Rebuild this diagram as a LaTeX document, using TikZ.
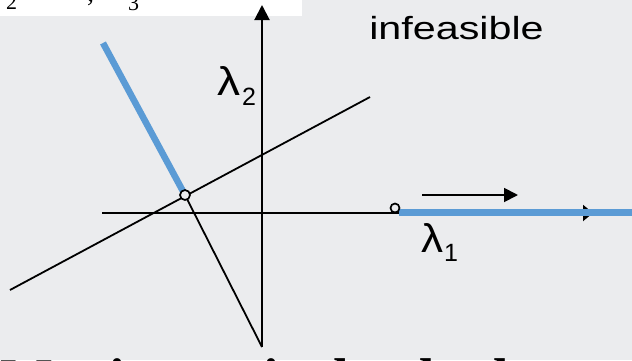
\documentclass[tikz,border=0pt]{standalone}
\usepackage{fontspec}
\setmainfont{Liberation Serif}
\newfontfamily\arialfont{Liberation Sans}
\usetikzlibrary{arrows.meta}
\definecolor{bgray}{RGB}{235,236,238}
\definecolor{lineblue}{RGB}{91,155,213}
\tikzset{
  thinline/.style={line width=1.8pt, black},
  axisline/.style={line width=2pt, black},
  bluefeas/.style={line width=6.5pt, lineblue},
  opencircle/.style={circle, draw=black, line width=1.7pt, fill=bgray, inner sep=0pt, minimum size=9pt},
  sanslabel/.style={font=\arialfont, inner sep=0pt, anchor=base west},
  seriftext/.style={inner sep=0pt, anchor=base west},
}
\begin{document}
\begin{tikzpicture}[x=1pt,y=-1pt]
\useasboundingbox (0,0) rectangle (632,360);
\clip (0,0) rectangle (632,360);
\fill[bgray] (0,0) rectangle (632,360);
\fill[white] (0,0) rectangle (302,16);
% cut-off text at the top
\node[seriftext, font=\fontsize{22}{22}\selectfont] (ttwo) at (6,9) {2};
\node[seriftext, font=\fontsize{28}{28}\selectfont] (tcomma) at (87,1) {,};
\node[seriftext, font=\fontsize{22}{22}\selectfont] (tthree) at (128,10) {3};
% points
\coordinate (vbot) at (262,347);
\coordinate (vtop) at (262,5);
\coordinate (hleft) at (102,213);
\coordinate (htip) at (593,213);
\coordinate (Astart) at (10,290);
\coordinate (Aend) at (370,97);
\coordinate (Btop) at (103,43);
\coordinate (Pc) at (185,195);
\coordinate (Qc) at (395,208);
\coordinate (bend) at (632,212.5);
\coordinate (arA) at (422,195);
\coordinate (arB) at (518,195);
% axes
\draw[axisline, -{Triangle[length=15pt,width=15pt]}] (vbot) -- (vtop);
\draw[axisline, -{Triangle[length=10pt,width=16pt]}] (hleft) -- (htip);
% constraint lines
\draw[thinline] (Astart) -- (Aend);
\draw[thinline] (Pc) -- (vbot);
% feasible set (blue)
\draw[bluefeas] (Btop) -- (Pc);
\draw[bluefeas] (Qc) ++(4,4.5) -- (bend);
% direction arrow
\draw[thinline, -{Triangle[length=14pt,width=14pt]}] (arA) -- (arB);
% vertices
\node[opencircle, minimum size=10pt] (P) at (Pc) {};
\node[opencircle, minimum size=9pt] (Q) at (Qc) {};
% labels
\node[sanslabel, font=\arialfont\fontsize{40}{40}\selectfont, xscale=1.15] (lamtwo) at (217,95) {λ};
\node[sanslabel, font=\arialfont\fontsize{25}{25}\selectfont] (subtwo) at (242,105) {2};
\node[sanslabel, font=\arialfont\fontsize{40}{40}\selectfont, xscale=1.1] (lamone) at (421,252) {λ};
\node[sanslabel, font=\arialfont\fontsize{25}{25}\selectfont] (subone) at (444,261) {1};
\node[sanslabel, font=\arialfont\fontsize{32}{32}\selectfont, xscale=1.29] (infeas) at (369,39) {infeasible};
% cut-off text at the bottom
\node[seriftext, font=\bfseries\fontsize{56}{56}\selectfont] (bottomtext) at (0,397) {Maximum is the dual};
\end{tikzpicture}
\end{document}
